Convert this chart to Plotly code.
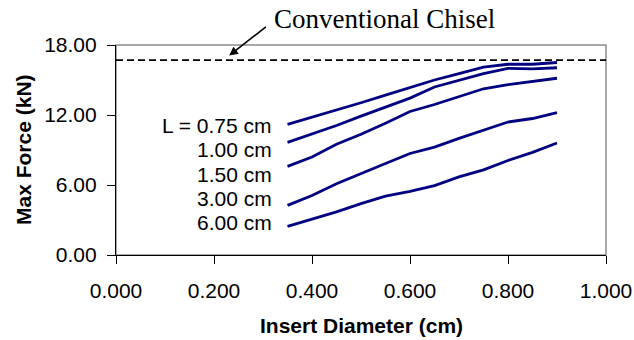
import plotly.graph_objects as go

# Insert diameter (cm) at which max force was evaluated
diameter = [0.35, 0.40, 0.45, 0.50, 0.55, 0.60, 0.65, 0.70, 0.75, 0.80, 0.85, 0.90]

# Max force (kN) for each insert length L
force_L075 = [11.2, 11.8, 12.4, 13.05, 13.7, 14.35, 15.0, 15.55, 16.1, 16.35, 16.35, 16.5]
force_L100 = [9.65, 10.35, 11.1, 11.9, 12.7, 13.45, 14.4, 15.0, 15.55, 16.0, 15.95, 16.05]
force_L150 = [7.6, 8.4, 9.5, 10.35, 11.3, 12.3, 12.9, 13.55, 14.25, 14.6, 14.85, 15.15]
force_L300 = [4.25, 5.1, 6.1, 7.0, 7.85, 8.7, 9.25, 10.0, 10.7, 11.4, 11.7, 12.2]
force_L600 = [2.45, 3.05, 3.7, 4.4, 5.05, 5.45, 5.95, 6.7, 7.3, 8.1, 8.8, 9.6]

series_labels = ["L = 0.75 cm", "1.00 cm", "1.50 cm", "3.00 cm", "6.00 cm"]
label_y = [11.13, 9.05, 6.93, 4.84, 2.75]

chisel_force = 16.7
chisel_label = "Conventional Chisel"

x_ticks = [0.0, 0.2, 0.4, 0.6, 0.8, 1.0]
y_ticks = [0, 6, 12, 18]

NAVY = "#000080"
SANS = "Liberation Sans, Arial, sans-serif"
SERIF = "Liberation Serif, Times New Roman, serif"

# Plot area geometry in pixels (used to place the outer titles)
W, H = 634, 340
ML, MR, MT, MB = 116, 28, 45, 85
PW, PH = W - ML - MR, H - MT - MB


def px_to_paper_x(px):
    return (px - ML) / PW


def px_to_paper_y(py):
    return (H - MB - py) / PH


fig = go.Figure()

for ys, name in zip([force_L075, force_L100, force_L150, force_L300, force_L600], series_labels):
    fig.add_trace(go.Scatter(
        x=diameter, y=ys, mode="lines", name=name,
        line=dict(color=NAVY, width=2.8), showlegend=False, hoverinfo="skip"))

# Reference level of the conventional chisel
fig.add_trace(go.Scatter(
    x=[0.0, 1.0], y=[chisel_force, chisel_force], mode="lines",
    line=dict(color="black", width=1.6, dash="7px,4px"),
    showlegend=False, hoverinfo="skip"))

annotations = []
for text, yv in zip(series_labels, label_y):
    annotations.append(dict(
        x=0.322, y=yv, xref="x", yref="y", text=text, showarrow=False,
        xanchor="right", yanchor="middle",
        font=dict(family=SANS, size=21, color="black")))

# Arrow pointing at the chisel line
annotations.append(dict(
    x=0.231, y=17.09, xref="x", yref="y", ax=0.309, ay=19.66,
    axref="x", ayref="y", text="", showarrow=True,
    arrowhead=2, arrowsize=1.1, arrowwidth=1.6, arrowcolor="black"))
annotations.append(dict(
    x=0.319, y=px_to_paper_y(19), xref="paper", yref="paper", text=chisel_label,
    showarrow=False, xanchor="left", yanchor="middle",
    font=dict(family=SERIF, size=27, color="black")))

# Axis titles
annotations.append(dict(
    x=0.5, y=px_to_paper_y(325), xref="paper", yref="paper",
    text="<b>Insert Diameter (cm)</b>",
    showarrow=False, xanchor="center", yanchor="middle",
    font=dict(family=SANS, size=21, color="black")))
annotations.append(dict(
    x=px_to_paper_x(23), y=0.5, xref="paper", yref="paper",
    text="<b>Max Force (kN)</b>",
    showarrow=False, textangle=-90, xanchor="center", yanchor="middle",
    font=dict(family=SANS, size=21, color="black")))

fig.update_layout(
    width=W, height=H,
    margin=dict(l=ML, r=MR, t=MT, b=MB, pad=0),
    paper_bgcolor="white", plot_bgcolor="white",
    annotations=annotations,
    shapes=[dict(type="rect", xref="paper", yref="paper",
                 x0=0, x1=1, y0=0, y1=1, line=dict(color="#8c8c8c", width=1.5),
                 layer="below")],
)

fig.update_xaxes(
    range=[0, 1], tickvals=x_ticks, tickformat=".3f",
    ticks="outside", ticklen=8, tickwidth=1.2, tickcolor="black",
    ticklabelstandoff=9,
    showline=True, linecolor="black", linewidth=1.2, showgrid=False, zeroline=False,
    tickfont=dict(family=SANS, size=21, color="black"), automargin=False)
fig.update_yaxes(
    range=[0, 18], tickvals=y_ticks, tickformat=".2f",
    ticks="outside", ticklen=8, tickwidth=1.2, tickcolor="black",
    ticklabelstandoff=6,
    showline=True, linecolor="black", linewidth=1.2, showgrid=False, zeroline=False,
    tickfont=dict(family=SANS, size=21, color="black"), automargin=False)

fig.write_html("out.html")
